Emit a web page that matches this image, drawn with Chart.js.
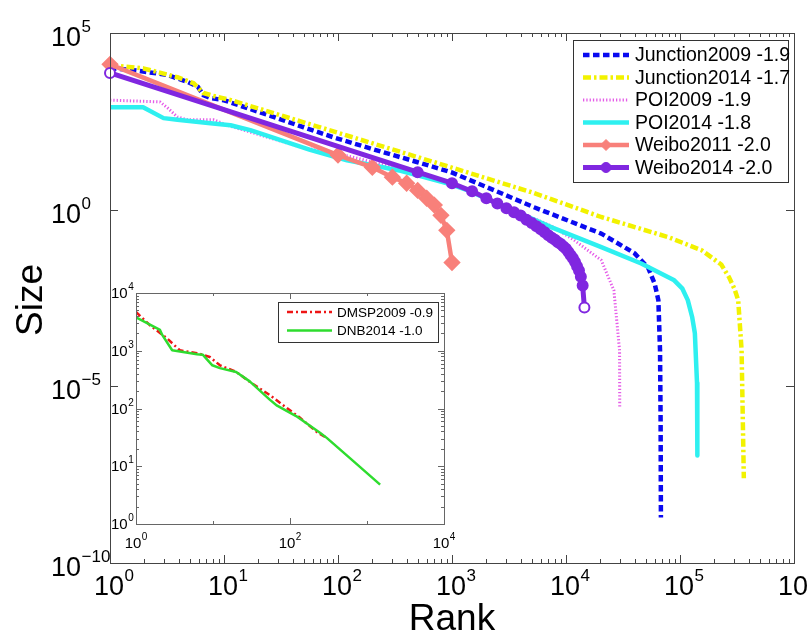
<!DOCTYPE html>
<html>
<head>
<meta charset="utf-8">
<title>Rank-size</title>
<script src="https://cdn.jsdelivr.net/npm/chart.js@4.4.1/dist/chart.umd.min.js"></script>
<style>
	html, body { margin: 0; padding: 0; background: #fff; }
	#wrap { position: relative; width: 809px; height: 633px; overflow: hidden; }
	#main { position: absolute; left: 0; top: 0; }
	#inset { position: absolute; left: 100px; top: 262px; }
</style>
</head>
<body>
<div id="wrap">
	<canvas id="main" width="809" height="633"></canvas>
	<canvas id="inset" width="360" height="298"></canvas>
</div>
<script>
// ---- main plot data (rank, size) ----
const junction2009Rank = [1, 1.6, 3.2, 4.8, 5.9, 6.6, 7.6, 10, 20, 50, 91, 200, 500, 980, 2000, 5250, 20400, 39800, 52500, 60000, 64600, 66800, 67600, 68000];
const junction2009Size = [1.0e4, 8.9e3, 6.5e3, 4.1e3, 3.0e3, 1.74e3, 1.45e3, 1.25e3, 590, 215, 112, 52, 22, 11.5, 4.4, 1.17, 0.21, 0.059, 0.023, 0.008, 0.00275, 1.05e-4, 1e-6, 1.95e-9];

const junction2014Rank = [1, 1.95, 3.9, 5.4, 6.6, 8.7, 11.5, 100, 980, 5250, 20400, 79400, 155000, 230000, 269000, 300000, 324000, 347000, 363000];
const junction2014Size = [1.23e4, 1.0e4, 5.6e3, 3.8e3, 2.0e3, 1.55e3, 1.26e3, 150, 15.8, 2.95, 0.62, 0.166, 0.071, 0.028, 0.0123, 0.0058, 0.00275, 1.05e-4, 2.5e-8];

const poi2009Rank = [1, 2.75, 3.2, 3.9, 4.8, 8.1, 10.7, 47, 130, 355, 980, 3160, 7400, 11750, 20400, 26300, 29500, 29600];
const poi2009Size = [1260, 1120, 760, 420, 350, 350, 245, 59, 31.6, 14, 6.0, 1.1, 0.35, 0.138, 0.037, 0.0052, 1.05e-4, 2.4e-6];

const poi2014Rank = [1, 1.95, 2.95, 3.9, 7.6, 11.4, 17, 57, 120, 355, 980, 1380, 7400, 20400, 45700, 89000, 105000, 117000, 128000, 135000, 141000, 142000];
const poi2014Size = [790, 790, 390, 350, 280, 245, 178, 49, 25, 12.6, 5.2, 3.5, 0.32, 0.087, 0.030, 0.01, 0.0058, 0.00275, 9e-4, 3.2e-4, 1.26e-5, 1.1e-7];

const weibo2011Rank = [1, 100, 200, 300, 400, 500, 600, 700, 800, 900, 1000];
const weibo2011Size = [1.3e4, 35, 15.8, 8.3, 5.6, 3.5, 2.1, 1.35, 0.69, 0.26, 0.032];

const weibo2014Rank = [1, 500, 1000, 1500, 2000, 2500, 3000, 3500, 4000, 4500, 5000, 5500, 6000, 6500, 7000, 7500,
	8000, 8500, 9000, 9500, 10000, 10500, 11000, 11500, 12000, 12500, 13000, 13500, 14000, 14500];
const weibo2014Size = [7400, 11.5, 5.6, 3.3, 2.1, 1.5, 1.1, 0.85, 0.68, 0.52, 0.42, 0.34, 0.28, 0.23, 0.19, 0.16,
	0.14, 0.12, 0.107, 0.091, 0.078, 0.063, 0.051, 0.042, 0.033, 0.025, 0.019, 0.0126, 0.0071, 0.0017];

// ---- inset data ----
const dmsp2009Rank = [1, 1.5, 2.5, 3.7, 6.2, 9.1, 12.3, 20, 30, 55, 91, 135, 224, 300];
const dmsp2009Size = [4700, 2800, 1660, 1020, 910, 780, 560, 430, 290, 170, 102, 69, 39, 31];

const dnb2014Rank = [1, 2.05, 2.2, 2.95, 6.2, 7.4, 9.8, 12.3, 20, 30, 55, 68, 120, 245, 300, 600, 1480];
const dnb2014Size = [3800, 2290, 1860, 1020, 870, 850, 560, 500, 430, 295, 141, 112, 74, 38, 31, 13.8, 4.8];

// ---- axis ticks (exponents of 10) ----
const mainXTickExp = [0, 1, 2, 3, 4, 5, 6];
const mainYTickExp = [-10, -5, 0, 5];
const insetXTickExp = [0, 2, 4];
const insetYTickExp = [0, 1, 2, 3, 4];

const FONT = '"Liberation Sans", Arial, Helvetica, sans-serif';

function pts(xs, ys) {
	return xs.map((x, i) => ({ x: x, y: ys[i] }));
}

function drawPower(ctx, exp, x, y, o, anchor) {
	ctx.font = o.base + 'px ' + FONT;
	const w = ctx.measureText('10').width;
	const bx = anchor === 'center' ? x - w / 2 : x;
	ctx.fillText('10', bx, y);
	ctx.font = o.exp + 'px ' + FONT;
	ctx.fillText(String(exp).replace('-', '\u2212'), bx + w + 0.5, y - o.rise);
}

function drawLegend(ctx, chart, box) {
	ctx.save();
	ctx.fillStyle = '#fff';
	ctx.fillRect(box.x, box.y, box.w, box.h);
	ctx.strokeStyle = '#333';
	ctx.lineWidth = 1;
	ctx.setLineDash([]);
	ctx.strokeRect(box.x + 0.5, box.y + 0.5, box.w, box.h);
	chart.data.datasets.forEach((ds, i) => {
		const yy = box.rowY + i * box.rowStep;
		ctx.save();
		ctx.strokeStyle = ds.borderColor;
		ctx.lineWidth = ds.borderWidth;
		ctx.lineCap = 'butt';
		ctx.setLineDash(ds.borderDash || []);
		ctx.beginPath();
		ctx.moveTo(box.sx0, yy);
		ctx.lineTo(box.sx1, yy);
		ctx.stroke();
		ctx.restore();
		if (ds.pointRadius) {
			ctx.save();
			ctx.fillStyle = ds.borderColor;
			ctx.strokeStyle = ds.borderColor;
			ctx.lineWidth = 1;
			Chart.helpers.drawPoint(ctx, { pointStyle: ds.pointStyle, radius: ds.pointRadius, rotation: 0, borderWidth: 1 }, (box.sx0 + box.sx1) / 2, yy);
			ctx.restore();
		}
		ctx.fillStyle = '#000';
		ctx.font = box.font + 'px ' + FONT;
		ctx.textBaseline = 'middle';
		ctx.fillText(ds.label, box.tx, yy + 1);
	});
	ctx.restore();
}

function axesPlugin(cfg) {
	return {
		id: 'matlabAxes',
		afterDraw(chart) {
			const { ctx, chartArea: a, scales } = chart;
			const sx = scales.x, sy = scales.y;
			ctx.save();
			ctx.setLineDash([]);
			ctx.strokeStyle = cfg.frame;
			ctx.lineWidth = 1;
			ctx.strokeRect(Math.round(a.left) + 0.5, Math.round(a.top) + 0.5, Math.round(a.right - a.left), Math.round(a.bottom - a.top));

			ctx.beginPath();
			cfg.xMajor.forEach((e) => {
				const px = Math.round(sx.getPixelForValue(Math.pow(10, e))) + 0.5;
				ctx.moveTo(px, a.bottom); ctx.lineTo(px, a.bottom - cfg.major);
				ctx.moveTo(px, a.top); ctx.lineTo(px, a.top + cfg.major);
			});
			cfg.xMinor.forEach((v) => {
				const px = Math.round(sx.getPixelForValue(v)) + 0.5;
				ctx.moveTo(px, a.bottom); ctx.lineTo(px, a.bottom - cfg.minor);
				ctx.moveTo(px, a.top); ctx.lineTo(px, a.top + cfg.minor);
			});
			cfg.yMajor.forEach((e) => {
				const py = Math.round(sy.getPixelForValue(Math.pow(10, e))) + 0.5;
				ctx.moveTo(a.left, py); ctx.lineTo(a.left + cfg.major, py);
				ctx.moveTo(a.right, py); ctx.lineTo(a.right - cfg.major, py);
			});
			cfg.yMinor.forEach((v) => {
				const py = Math.round(sy.getPixelForValue(v)) + 0.5;
				ctx.moveTo(a.left, py); ctx.lineTo(a.left + cfg.minor, py);
				ctx.moveTo(a.right, py); ctx.lineTo(a.right - cfg.minor, py);
			});
			ctx.stroke();

			ctx.fillStyle = '#000';
			ctx.textAlign = 'left';
			ctx.textBaseline = 'alphabetic';
			cfg.xMajor.forEach((e) => {
				drawPower(ctx, e, sx.getPixelForValue(Math.pow(10, e)) + cfg.xLabelDx, cfg.xLabelY, cfg.lab, 'center');
			});
			cfg.yMajor.forEach((e) => {
				drawPower(ctx, e, cfg.yLabelX, sy.getPixelForValue(Math.pow(10, e)) + cfg.yLabelDy, cfg.lab, 'left');
			});

			if (cfg.titles) {
				ctx.font = '37px ' + FONT;
				ctx.textAlign = 'center';
				ctx.fillText('Rank', (a.left + a.right) / 2, 630);
				ctx.save();
				ctx.translate(42, 300);
				ctx.rotate(-Math.PI / 2);
				ctx.fillText('Size', 0, 0);
				ctx.restore();
			}
			ctx.restore();
			drawLegend(ctx, chart, cfg.legend);
		},
	};
}

function minorTicks(e0, e1) {
	const out = [];
	for (let e = e0; e < e1; e++) {
		for (let m = 2; m <= 9; m++) out.push(m * Math.pow(10, e));
	}
	return out;
}

function logScale(min, max) {
	return {
		type: 'logarithmic',
		min: min,
		max: max,
		grid: { display: false, drawTicks: false },
		border: { display: false },
		ticks: { display: false },
	};
}

const lineBase = { fill: false, tension: 0, borderJoinStyle: 'round', borderCapStyle: 'butt', pointRadius: 0, pointHoverRadius: 0 };

function fillFor(n, color, hollowEnds) {
	return Array.from({ length: n }, (_, i) => (hollowEnds && (i === 0 || i === n - 1) ? '#fff' : color));
}

new Chart(document.getElementById('main'), {
	type: 'line',
	data: {
		datasets: [
			Object.assign({}, lineBase, { label: 'Junction2009 -1.9', data: pts(junction2009Rank, junction2009Size), borderColor: '#0a0af0', borderWidth: 4.5, borderDash: [6.5, 3.5], order: 5 }),
			Object.assign({}, lineBase, { label: 'Junction2014 -1.7', data: pts(junction2014Rank, junction2014Size), borderColor: '#f2f200', borderWidth: 4.5, borderDash: [8, 3, 2.5, 3], order: 4 }),
			Object.assign({}, lineBase, { label: 'POI2009 -1.9', data: pts(poi2009Rank, poi2009Size), borderColor: '#e55ce8', borderWidth: 3, borderDash: [1.3, 2], order: 3 }),
			Object.assign({}, lineBase, { label: 'POI2014 -1.8', data: pts(poi2014Rank, poi2014Size), borderColor: '#2ef0f0', borderWidth: 4.5, order: 2 }),
			Object.assign({}, lineBase, {
				label: 'Weibo2011 -2.0', data: pts(weibo2011Rank, weibo2011Size), borderColor: '#f8807a', borderWidth: 4.5,
				pointRadius: 5.5, pointStyle: 'rectRot', pointBackgroundColor: '#f8807a', pointBorderColor: '#f8807a', clip: false, order: 1,
			}),
			Object.assign({}, lineBase, {
				label: 'Weibo2014 -2.0', data: pts(weibo2014Rank, weibo2014Size), borderColor: '#8027e0', borderWidth: 5,
				pointRadius: 5, pointStyle: 'circle', pointBorderWidth: 2, pointBackgroundColor: fillFor(weibo2014Rank.length, '#8027e0', true),
				pointBorderColor: '#8027e0', clip: false, order: 0,
			}),
		],
	},
	options: {
		responsive: false,
		animation: false,
		events: [],
		layout: { padding: { left: 110, right: 15, top: 33, bottom: 70 } },
		plugins: { legend: { display: false }, tooltip: { enabled: false } },
		scales: { x: logScale(1, 1e6), y: logScale(1e-10, 1e5) },
	},
	plugins: [axesPlugin({
		frame: '#444', major: 8, minor: 4,
		xMajor: mainXTickExp, xMinor: minorTicks(0, 6), yMajor: mainYTickExp, yMinor: [],
		lab: { base: 27, exp: 17, rise: 14 },
		xLabelDx: -1, xLabelY: 595, yLabelX: 51, yLabelDy: 13,
		titles: true,
		legend: { x: 573, y: 40, w: 215, h: 142, rowY: 55, rowStep: 22.5, sx0: 583, sx1: 629, tx: 635, font: 19.5 },
	})],
});

new Chart(document.getElementById('inset'), {
	type: 'line',
	data: {
		datasets: [
			Object.assign({}, lineBase, { label: 'DMSP2009 -0.9', data: pts(dmsp2009Rank, dmsp2009Size), borderColor: '#ee1515', borderWidth: 2.5, borderDash: [6, 3, 2, 3], order: 1 }),
			Object.assign({}, lineBase, { label: 'DNB2014 -1.0', data: pts(dnb2014Rank, dnb2014Size), borderColor: '#2edc2e', borderWidth: 2.5, order: 0 }),
		],
	},
	options: {
		responsive: false,
		animation: false,
		events: [],
		layout: { padding: { left: 36, right: 16, top: 31, bottom: 36 } },
		plugins: { legend: { display: false }, tooltip: { enabled: false } },
		scales: { x: logScale(1, 1e4), y: logScale(1, 1e4) },
	},
	plugins: [axesPlugin({
		frame: '#666', major: 6, minor: 3,
		xMajor: insetXTickExp, xMinor: [10, 1000], yMajor: insetYTickExp, yMinor: minorTicks(0, 4),
		lab: { base: 15, exp: 10, rise: 8 },
		xLabelDx: -3, xLabelY: 286, yLabelX: 11, yLabelDy: 5,
		titles: false,
		legend: { x: 178, y: 40, w: 160, h: 40, rowY: 50, rowStep: 18.5, sx0: 187, sx1: 232, tx: 237, font: 13.5 },
	})],
});
</script>
</body>
</html>
